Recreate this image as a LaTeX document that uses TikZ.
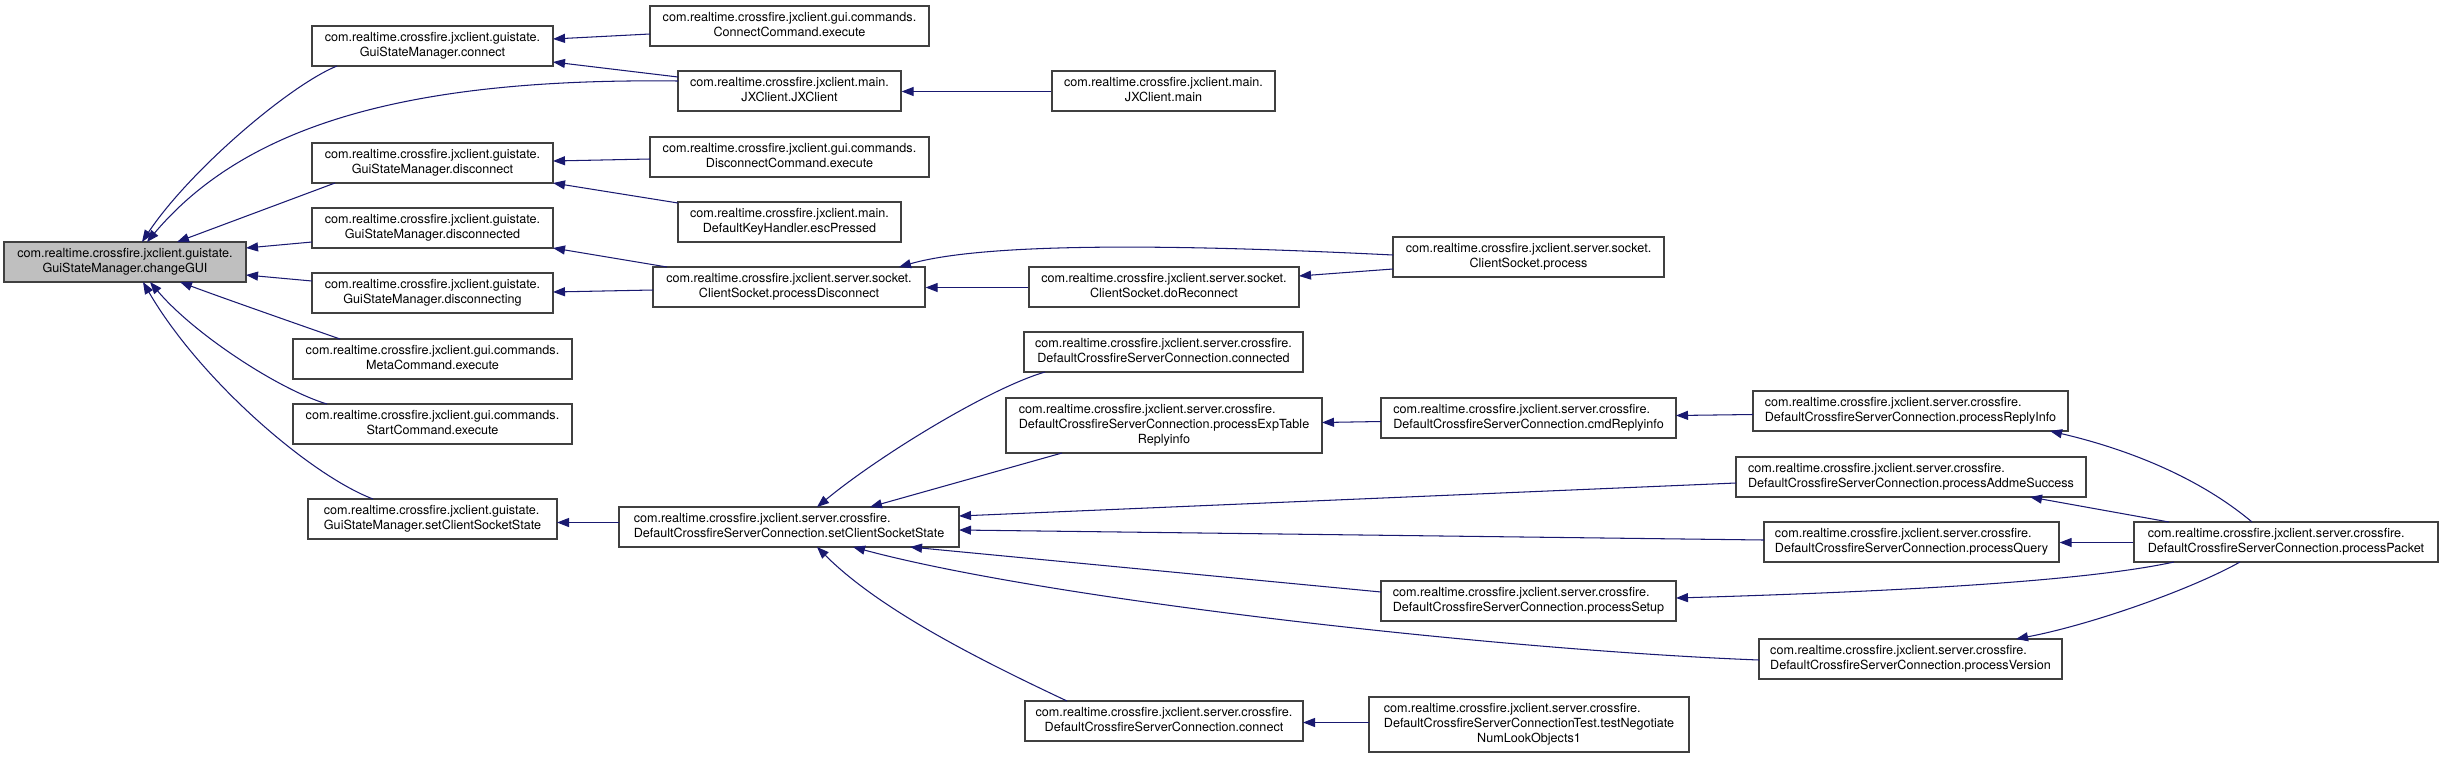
\documentclass[tikz,border=0pt]{standalone}
\usepackage{fontspec}
\setmainfont{TeX Gyre Heros}
\usetikzlibrary{arrows.meta,calc}
\definecolor{edgeblue}{HTML}{191970}
\definecolor{boxline}{HTML}{404040}
\definecolor{hlfill}{HTML}{BFBFBF}
\newcommand{\twol}[2]{\begin{tabular}{@{}l@{}}#1\\\multicolumn{1}{@{}c@{}}{#2}\end{tabular}}
\newcommand{\threel}[3]{\begin{tabular}{@{}l@{}}#1\\#2\\\multicolumn{1}{@{}c@{}}{#3}\end{tabular}}
\newcommand{\pgs}{com.realtime.crossfire.jxclient.guistate.}
\newcommand{\pgc}{com.realtime.crossfire.jxclient.gui.commands.}
\newcommand{\pmn}{com.realtime.crossfire.jxclient.main.}
\newcommand{\pss}{com.realtime.crossfire.jxclient.server.socket.}
\newcommand{\psc}{com.realtime.crossfire.jxclient.server.crossfire.}
\begin{document}
\begin{tikzpicture}[x=1pt,y=-1pt,
  fn/.style={draw=boxline,line width=1.2pt,fill=white,inner sep=0pt,minimum height=40pt,
    font=\fontsize{12.6}{14.6}\selectfont},
  hl/.style={fn,fill=hlfill},
  call/.style={draw=edgeblue,line width=1.05pt,-{Triangle[length=12pt,width=9pt]}}]
\useasboundingbox (0,0) rectangle (2443,758);

% rank 0
\node[hl,minimum width=242pt] (cg) at (125,262) {\twol{\pgs}{GuiStateManager.changeGUI}};
% rank 1
\node[fn,minimum width=241pt] (gc)  at (432.5,46)  {\twol{\pgs}{GuiStateManager.connect}};
\node[fn,minimum width=241pt] (gd)  at (432.5,163) {\twol{\pgs}{GuiStateManager.disconnect}};
\node[fn,minimum width=241pt] (gdd) at (432.5,228) {\twol{\pgs}{GuiStateManager.disconnected}};
\node[fn,minimum width=241pt] (gdg) at (432.5,293) {\twol{\pgs}{GuiStateManager.disconnecting}};
\node[fn,minimum width=279pt] (meta) at (432.5,359) {\twol{\pgc}{MetaCommand.execute}};
\node[fn,minimum width=279pt] (start) at (432.5,424) {\twol{\pgc}{StartCommand.execute}};
\node[fn,minimum width=249pt] (gscs) at (432.5,519) {\twol{\pgs}{GuiStateManager.setClientSocketState}};
% rank 2
\node[fn,minimum width=279pt] (cc)  at (789.5,26)  {\twol{\pgc}{ConnectCommand.execute}};
\node[fn,minimum width=223pt] (jx)  at (789.5,91)  {\twol{\pmn}{JXClient.JXClient}};
\node[fn,minimum width=279pt] (dc)  at (789.5,157) {\twol{\pgc}{DisconnectCommand.execute}};
\node[fn,minimum width=223pt] (esc) at (789.5,222) {\twol{\pmn}{DefaultKeyHandler.escPressed}};
\node[fn,minimum width=272pt] (pd)  at (789,287)   {\twol{\pss}{ClientSocket.processDisconnect}};
\node[fn,minimum width=340pt] (dscs) at (789,527)  {\twol{\psc}{DefaultCrossfireServerConnection.setClientSocketState}};
% rank 3
\node[fn,minimum width=223pt] (jxm) at (1163.5,91) {\twol{\pmn}{JXClient.main}};
\node[fn,minimum width=270pt] (dr)  at (1164,287)  {\twol{\pss}{ClientSocket.doReconnect}};
\node[fn,minimum width=279pt] (conn) at (1163.5,352) {\twol{\psc}{DefaultCrossfireServerConnection.connected}};
\node[fn,minimum width=316pt,minimum height=55pt] (pet) at (1164,425.5) {\threel{\psc}{DefaultCrossfireServerConnection.processExpTable}{Replyinfo}};
\node[fn,minimum width=278pt] (dconn) at (1164,721) {\twol{\psc}{DefaultCrossfireServerConnection.connect}};
% rank 4
\node[fn,minimum width=271pt] (csp) at (1528.5,257) {\twol{\pss}{ClientSocket.process}};
\node[fn,minimum width=295pt] (cri) at (1528.5,418) {\twol{\psc}{DefaultCrossfireServerConnection.cmdReplyinfo}};
\node[fn,minimum width=295pt] (psu) at (1528.5,601) {\twol{\psc}{DefaultCrossfireServerConnection.processSetup}};
\node[fn,minimum width=320pt,minimum height=55pt] (tn) at (1529,724.5) {\threel{\psc}{DefaultCrossfireServerConnectionTest.testNegotiate}{NumLookObjects1}};
% rank 5
\node[fn,minimum width=315pt] (pri) at (1910.5,411) {\twol{\psc}{DefaultCrossfireServerConnection.processReplyInfo}};
\node[fn,minimum width=350pt] (pas) at (1911,477)   {\twol{\psc}{DefaultCrossfireServerConnection.processAddmeSuccess}};
\node[fn,minimum width=295pt] (pq)  at (1911.5,542) {\twol{\psc}{DefaultCrossfireServerConnection.processQuery}};
\node[fn,minimum width=303pt] (pv)  at (1910.5,659) {\twol{\psc}{DefaultCrossfireServerConnection.processVersion}};
% rank 6
\node[fn,minimum width=304pt] (pp)  at (2286,542)   {\twol{\psc}{DefaultCrossfireServerConnection.processPacket}};

% edges into changeGUI
\draw[call] ($(gc)+(-95.5,20)$) .. controls +(-47,19) and +(48,-72) .. ($(cg)+(17,-20)$);
\draw[call] ($(jx)+(-111.5,-10)$) .. controls +(-258,-3) and +(103,-122) .. ($(cg)+(22,-20)$);
\draw[call] ($(gd)+(-97.5,20)$) -- ($(cg)+(52,-20)$);
\draw[call] ($(gdd)+(-120.5,14)$) -- ($(cg)+(121,-14)$);
\draw[call] ($(gdg)+(-120.5,-12)$) -- ($(cg)+(121,13)$);
\draw[call] ($(meta)+(-92.5,-20)$) .. controls +(-40,-14) and +(40,15) .. ($(cg)+(55,20)$);
\draw[call] ($(start)+(-105.5,-20)$) .. controls +(-47,-14) and +(45,53) .. ($(cg)+(25,20)$);
\draw[call] ($(gscs)+(-59.5,-20)$) .. controls +(-63,-24) and +(57,98) .. ($(cg)+(18,20)$);
% rank 2 -> rank 1
\draw[call] ($(cc)+(-139.5,8)$) -- ($(gc)+(120.5,-7)$);
\draw[call] ($(jx)+(-111.5,-14)$) -- ($(gc)+(120.5,16)$);
\draw[call] ($(dc)+(-139.5,2)$) -- ($(gd)+(120.5,-2)$);
\draw[call] ($(esc)+(-111.5,-19)$) -- ($(gd)+(120.5,20)$);
\draw[call] ($(pd)+(-122,-20)$) -- ($(gdd)+(120.5,20)$);
\draw[call] ($(pd)+(-136,3)$) -- ($(gdg)+(120.5,-1)$);
\draw[call] ($(dscs)+(-170,-4.5)$) -- ($(gscs)+(124.5,3.5)$);
% rank 3/4 -> rank 2
\draw[call] ($(jxm.west)+(0,0.5)$) -- ($(jx.east)+(0,0.5)$);
\draw[call] ($(csp)+(-135.5,-2)$) .. controls +(-143,-7) and +(101,-29) .. ($(pd)+(110,-20)$);
\draw[call] ($(dr.west)+(0,0.5)$) -- ($(pd.east)+(0,0.5)$);
\draw[call] ($(csp)+(-135.5,12)$) -- ($(dr)+(135,-11)$);
\draw[call] ($(conn)+(-118.5,20)$) .. controls +(-55,16) and +(63,-52) .. ($(dscs)+(28,-20)$);
\draw[call] ($(pet)+(-102,27.5)$) -- ($(dscs)+(81,-20)$);
\draw[call] ($(pas)+(-175,6)$) -- ($(dscs)+(170,-11)$);
\draw[call] ($(pq)+(-147.5,-2)$) -- ($(dscs)+(170,3)$);
\draw[call] ($(psu)+(-147.5,-9)$) -- ($(dscs)+(121,20)$);
\draw[call] ($(pv)+(-151.5,1)$) .. controls +(-259,-10) and +(197,53) .. ($(dscs)+(64,20)$);
\draw[call] ($(dconn)+(-97,-20)$) .. controls +(-87,-41) and +(63,63) .. ($(dscs)+(28,20)$);
\draw[call] ($(cri)+(-147.5,3.5)$) -- ($(pet)+(158,-3)$);
\draw[call] ($(pri)+(-157.5,3.5)$) -- ($(cri)+(147.5,-2.5)$);
\draw[call] ($(tn)+(-160,-2)$) -- ($(dconn)+(139,1.5)$);
% processPacket
\draw[call] ($(pp)+(-34,-20)$) .. controls +(-62,-52) and +(60,14) .. ($(pri)+(139.5,20)$);
\draw[call] ($(pp)+(-117,-20)$) -- ($(pas)+(119,20)$);
\draw[call] ($(pp.west)+(0,0.5)$) -- ($(pq.east)+(0,0.5)$);
\draw[call] ($(pp)+(-112,20)$) .. controls +(-74,16) and +(274,-8) .. ($(psu)+(147.5,-3)$);
\draw[call] ($(pp)+(-46,20)$) .. controls +(-50,28) and +(74,-14) .. ($(pv)+(105.5,-20)$);
\end{tikzpicture}
\end{document}
